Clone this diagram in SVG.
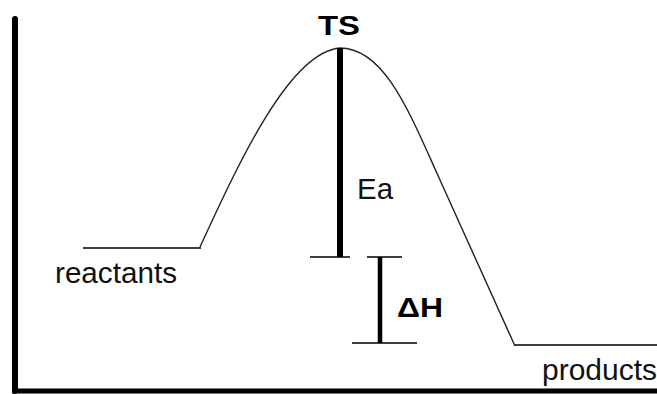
<svg xmlns="http://www.w3.org/2000/svg" width="657" height="394" viewBox="0 0 657 394">
<style>
.thin{stroke:#000;stroke-width:1.5;fill:none}
.curve{stroke:#222;stroke-width:1.4;fill:none}
.lbl{font-family:"Liberation Sans",Arial,sans-serif;font-size:30px;fill:#111}
.bold{font-family:"Liberation Sans",Arial,sans-serif;font-size:28px;font-weight:bold;fill:#000}
</style>
<rect width="657" height="394" fill="#fff"/>
<g id="axes">
<line x1="15" y1="19" x2="15" y2="391" stroke="#000" stroke-width="6" stroke-linecap="round"/>
<line x1="12" y1="391" x2="657" y2="391" stroke="#000" stroke-width="5"/>
</g>
<g id="reactants">
<line class="thin" x1="83" y1="248" x2="201" y2="248"/>
<text class="lbl" x="55" y="283" textLength="122" lengthAdjust="spacingAndGlyphs">reactants</text>
</g>
<g id="products">
<line class="thin" x1="515" y1="345" x2="657" y2="345"/>
<text class="lbl" x="542" y="380" textLength="115" lengthAdjust="spacingAndGlyphs">products</text>
</g>
<g id="connectors">
<path class="curve" d="M200,247 C240,160 290,52 340,48 C385,48 410,114 440,180 L515,346"/>
</g>
<g id="TS">
<text class="bold" x="318" y="35" textLength="42" lengthAdjust="spacingAndGlyphs">TS</text>
</g>
<g id="Ea">
<line x1="340" y1="48" x2="340" y2="257" stroke="#000" stroke-width="6"/>
<line class="thin" x1="310" y1="257" x2="350" y2="257"/>
<text class="lbl" x="357" y="199" textLength="36" lengthAdjust="spacingAndGlyphs">Ea</text>
</g>
<g id="dH">
<line x1="380" y1="257" x2="380" y2="343" stroke="#000" stroke-width="4.5"/>
<line class="thin" x1="367" y1="257" x2="402" y2="257"/>
<line class="thin" x1="352" y1="343" x2="417" y2="343"/>
<text class="bold" x="397" y="317" textLength="46" lengthAdjust="spacingAndGlyphs">ΔH</text>
</g>
</svg>
